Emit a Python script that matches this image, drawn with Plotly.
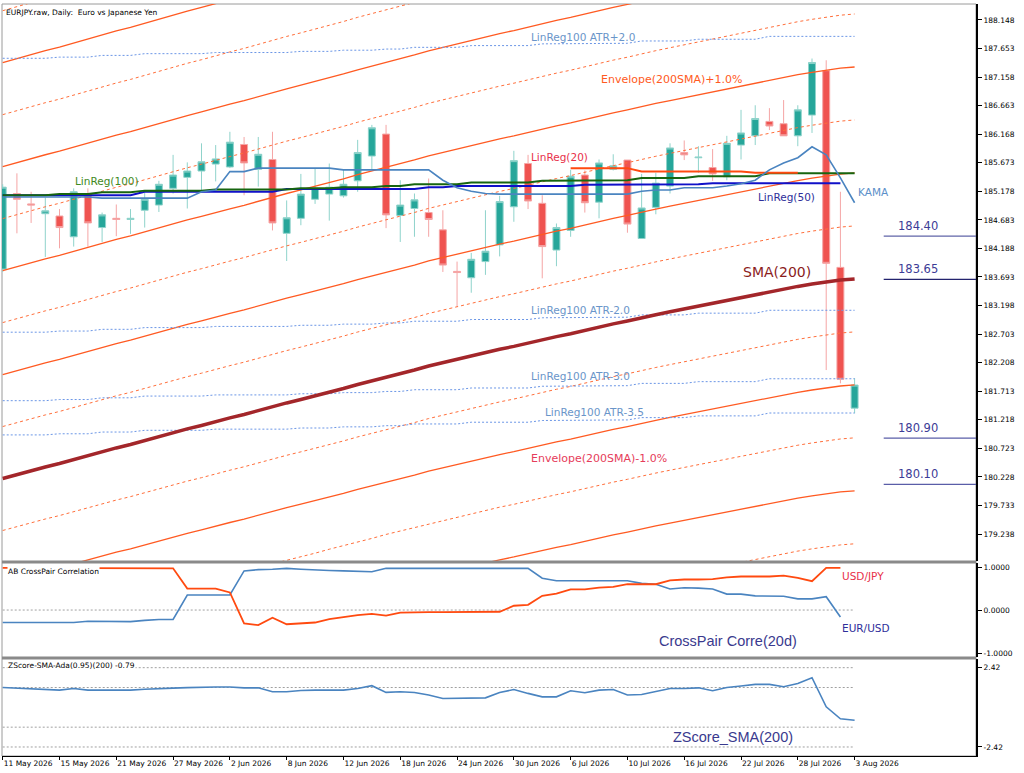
import numpy as np
import plotly.graph_objects as go

# ---- data (EURJPY daily, 61 bars) ----
tick_bars = [0, 4, 8, 12, 16, 20, 24, 28, 32, 36, 40, 44, 48, 52, 56, 60]
tick_labels = ["11 May 2026", "15 May 2026", "21 May 2026", "27 May 2026", "2 Jun 2026",
               "8 Jun 2026", "12 Jun 2026", "18 Jun 2026", "24 Jun 2026", "30 Jun 2026",
               "6 Jul 2026", "10 Jul 2026", "16 Jul 2026", "22 Jul 2026", "28 Jul 2026",
               "3 Aug 2026"]

opens = [183.83, 185.14, 184.96, 184.79, 184.75, 184.39, 185.13, 184.55, 184.71, 184.69,
         184.85, 184.94, 185.23, 185.42, 185.53, 185.65, 185.60, 185.99, 185.56, 185.73,
         184.45, 184.71, 185.04, 185.13, 185.10, 185.36, 185.79, 186.17, 184.76, 184.88,
         184.81, 184.51, 183.79, 183.68, 183.96, 184.25, 184.91, 185.66, 184.97, 184.16,
         184.50, 185.46, 184.99, 185.56, 185.72, 184.36, 184.90, 185.27, 185.85, 185.76,
         185.59, 185.43, 185.98, 186.14, 186.39, 186.35, 186.14, 186.50, 187.27, 183.86,
         181.42]
highs = [185.30, 185.49, 185.17, 185.07, 184.87, 185.23, 185.23, 184.81, 184.95, 184.87,
         185.15, 185.36, 185.81, 185.68, 186.01, 185.98, 186.21, 186.12, 186.12, 186.21,
         185.02, 185.48, 185.57, 185.66, 185.55, 186.07, 186.33, 186.33, 185.37, 185.14,
         185.40, 184.85, 183.96, 184.11, 184.85, 185.10, 185.88, 185.81, 185.11, 184.62,
         185.55, 185.54, 185.73, 185.82, 185.72, 185.48, 185.50, 186.01, 186.06, 185.96,
         185.91, 186.14, 186.59, 186.67, 186.62, 186.76, 186.67, 187.48, 187.45, 185.17,
         181.94]
lows = [183.78, 184.45, 184.63, 184.04, 184.19, 184.22, 184.22, 184.30, 184.40, 184.44,
        184.55, 184.82, 185.14, 184.88, 185.20, 185.35, 185.58, 185.11, 185.26, 184.50,
        183.97, 184.59, 184.96, 184.67, 185.07, 185.17, 185.55, 184.54, 184.30, 184.39,
        184.39, 183.78, 183.18, 183.42, 183.73, 184.05, 184.65, 184.87, 183.67, 183.88,
        184.39, 184.81, 184.71, 185.54, 184.46, 184.36, 184.78, 185.14, 185.72, 185.50,
        185.36, 185.37, 185.73, 185.98, 186.24, 186.14, 185.96, 186.19, 182.08, 181.85,
        181.33]
closes = [185.25, 185.04, 184.94, 184.84, 184.55, 185.17, 184.63, 184.77, 184.69, 184.71,
          185.04, 185.30, 185.46, 185.53, 185.69, 185.74, 186.03, 185.67, 185.82, 184.63,
          184.72, 185.13, 185.23, 185.25, 185.30, 185.85, 186.28, 184.77, 184.94, 185.03,
          184.69, 183.90, 183.77, 184.00, 184.14, 185.00, 185.71, 185.01, 184.22, 184.55,
          185.44, 184.98, 185.67, 185.62, 184.61, 184.89, 185.32, 185.93, 185.81, 185.77,
          185.48, 186.01, 186.19, 186.44, 186.31, 186.14, 186.59, 187.41, 183.93, 181.92,
          181.82]

sma200 = [180.20, 180.27, 180.33, 180.40, 180.46, 180.53, 180.60, 180.66, 180.73, 180.79,
          180.86, 180.92, 180.99, 181.06, 181.12, 181.19, 181.25, 181.31, 181.38, 181.44,
          181.51, 181.57, 181.63, 181.70, 181.76, 181.83, 181.89, 181.96, 182.02, 182.08,
          182.15, 182.21, 182.27, 182.33, 182.38, 182.44, 182.49, 182.55, 182.60, 182.66,
          182.71, 182.77, 182.82, 182.88, 182.93, 182.99, 183.04, 183.09, 183.14, 183.19,
          183.24, 183.29, 183.34, 183.39, 183.44, 183.48, 183.53, 183.57, 183.61, 183.64,
          183.66]
envelope_pct = [-3.0, -2.5, -2.0, -1.5, -1.0, -0.5, 0.5, 1.0, 1.5, 2.0, 2.5, 3.0, 3.5, 4.0, 4.5]

linreg100 = [185.11, 185.11, 185.11, 185.11, 185.13, 185.13, 185.13, 185.16, 185.16, 185.16,
             185.19, 185.19, 185.19, 185.19, 185.19, 185.21, 185.21, 185.21, 185.21, 185.21,
             185.21, 185.23, 185.23, 185.23, 185.25, 185.25, 185.25, 185.27, 185.27, 185.30,
             185.30, 185.30, 185.30, 185.33, 185.33, 185.33, 185.33, 185.33, 185.36, 185.36,
             185.36, 185.37, 185.37, 185.37, 185.37, 185.41, 185.41, 185.41, 185.41, 185.44,
             185.44, 185.44, 185.44, 185.44, 185.49, 185.49, 185.49, 185.49, 185.49, 185.49,
             185.49]
atr_value = 1.187
atr_mults = [2.0, -2.0, -3.0, -3.5]

linreg50 = [185.11, 185.11, 185.11, 185.11, 185.11, 185.11, 185.11, 185.11, 185.11, 185.11,
            185.17, 185.17, 185.17, 185.17, 185.17, 185.17, 185.17, 185.17, 185.17, 185.17,
            185.22, 185.22, 185.22, 185.22, 185.22, 185.22, 185.22, 185.22, 185.22, 185.22,
            185.25, 185.25, 185.27, 185.27, 185.27, 185.27, 185.27, 185.27, 185.27, 185.27,
            185.27, 185.29, 185.29, 185.29, 185.29, 185.30, 185.30, 185.30, 185.30, 185.30,
            185.32, 185.32, 185.32, 185.32, 185.32, 185.32, 185.32, 185.32, 185.32, 185.32,
            None]

kama = [185.08, 185.08, 185.08, 185.08, 185.08, 185.08, 185.08, 185.06, 185.06, 185.06,
        185.06, 185.06, 185.06, 185.06, 185.17, 185.20, 185.52, 185.52, 185.58, 185.58,
        185.58, 185.58, 185.58, 185.58, 185.55, 185.55, 185.55, 185.55, 185.55, 185.55,
        185.55, 185.37, 185.24, 185.18, 185.14, 185.13, 185.13, 185.13, 185.13, 185.13,
        185.13, 185.13, 185.13, 185.13, 185.13, 185.18, 185.20, 185.20, 185.24, 185.24,
        185.24, 185.27, 185.31, 185.37, 185.55, 185.67, 185.76, 185.95, 185.81, 185.41,
        184.98]

linreg20_bars = list(range(40, 57))
linreg20 = [185.58, 185.58, 185.58, 185.58, 185.58, 185.52, 185.52, 185.52, 185.52, 185.52,
            185.52, 185.52, 185.52, 185.50, 185.50, 185.50, 185.50]

price_levels = [184.40, 183.65, 180.90, 180.10]
price_level_colors = ["#6064a8", "#23236e", "#5a5ea8", "#5a5ea8"]

corr_usdjpy = [0.98, 0.98, 0.98, 0.98, 0.98, 0.98, 0.98, 0.98, 0.97, 0.97,
               0.97, 0.97, 0.97, 0.50, 0.50, 0.50, 0.41, -0.31, -0.35, -0.18,
               -0.33, -0.31, -0.29, -0.21, -0.16, -0.12, -0.09, -0.13, -0.06, -0.05,
               -0.05, -0.05, -0.05, -0.05, -0.04, -0.04, 0.10, 0.12, 0.33, 0.38,
               0.48, 0.48, 0.52, 0.54, 0.60, 0.60, 0.60, 0.69, 0.71, 0.71,
               0.72, 0.76, 0.78, 0.78, 0.78, 0.80, 0.75, 0.67, 0.98, 0.98]
corr_eurusd = [-0.29, -0.29, -0.29, -0.29, -0.29, -0.29, -0.26, -0.26, -0.26, -0.27,
               -0.24, -0.22, -0.22, 0.35, 0.35, 0.35, 0.35, 0.91, 0.94, 0.95,
               0.97, 0.95, 0.93, 0.92, 0.91, 0.90, 0.89, 0.97, 0.97, 0.97,
               0.97, 0.97, 0.98, 0.98, 0.98, 0.98, 0.98, 0.97, 0.74, 0.68,
               0.68, 0.68, 0.68, 0.68, 0.68, 0.62, 0.60, 0.49, 0.52, 0.51,
               0.49, 0.37, 0.37, 0.33, 0.33, 0.32, 0.26, 0.26, 0.31, -0.16]

zscore = [1.21, 1.18, 1.15, 1.12, 1.05, 1.15, 1.05, 1.05, 1.05, 1.05,
          1.10, 1.15, 1.17, 1.20, 1.24, 1.24, 1.24, 1.19, 1.19, 0.95,
          0.95, 1.03, 1.05, 1.05, 1.05, 1.15, 1.32, 0.91, 0.95, 0.91,
          0.75, 0.54, 0.54, 0.56, 0.58, 0.90, 1.09, 0.85, 0.64, 0.64,
          1.01, 0.89, 1.05, 1.09, 0.75, 0.78, 0.95, 1.15, 1.15, 1.19,
          1.01, 1.21, 1.30, 1.40, 1.40, 1.26, 1.46, 1.81, 0.03, -0.70,
          -0.79]
zscore_levels = [2.42, 1.21, -1.21, -2.42]

main_ticks = [179.238, 179.733, 180.228, 180.723, 181.218, 181.713, 182.208, 182.703,
              183.198, 183.693, 184.188, 184.683, 185.178, 185.673, 186.168, 186.663,
              187.158, 187.653, 188.148]

bars = list(range(len(opens)))
SMALL = "DejaVu Sans"
X_RANGE = [-0.05, 68.55]

fig = go.Figure()

# envelope lines around the 200 SMA
sma_arr = np.array(sma200)
for pct in envelope_pct:
    solid = float(pct).is_integer()
    fig.add_trace(go.Scatter(
        x=bars, y=sma_arr * (1 + pct / 100), mode="lines", xaxis="x", yaxis="y",
        line=dict(color="#ff5a22" if solid else "#ff6e3a", width=1.3 if solid else 1,
                  dash="solid" if solid else "3px,3px"),
        hoverinfo="skip", showlegend=False))

# LinReg100 +/- ATR bands
lr100 = np.array(linreg100)
for m in atr_mults:
    fig.add_trace(go.Scatter(
        x=bars, y=lr100 + m * atr_value, mode="lines", xaxis="x", yaxis="y",
        line=dict(color="#6b96e6", width=1, dash="2px,2px"),
        hoverinfo="skip", showlegend=False))

fig.add_trace(go.Scatter(x=bars, y=sma200, mode="lines", line=dict(color="#a3262a", width=3.5),
                         hoverinfo="skip", showlegend=False))
fig.add_trace(go.Scatter(x=bars, y=linreg50, mode="lines", line=dict(color="#1010c8", width=2),
                         hoverinfo="skip", showlegend=False))
fig.add_trace(go.Scatter(x=bars, y=linreg100, mode="lines", line=dict(color="#17650f", width=2),
                         hoverinfo="skip", showlegend=False))
fig.add_trace(go.Scatter(x=linreg20_bars, y=linreg20, mode="lines", line=dict(color="#ff4a10", width=2),
                         hoverinfo="skip", showlegend=False))
fig.add_trace(go.Scatter(x=bars, y=kama, mode="lines", line=dict(color="#4a84c0", width=1.6),
                         hoverinfo="skip", showlegend=False))

fig.add_trace(go.Candlestick(
    x=bars, open=opens, high=highs, low=lows, close=closes,
    increasing=dict(line=dict(color="#8fd3cb", width=1), fillcolor="#26a69a"),
    decreasing=dict(line=dict(color="#f5a5a5", width=1), fillcolor="#ef5350"),
    whiskerwidth=0, hoverinfo="skip", showlegend=False))

# horizontal price levels on the right
for lvl, col in zip(price_levels, price_level_colors):
    fig.add_trace(go.Scatter(x=[62.05, 68.6], y=[lvl, lvl], mode="lines",
                             line=dict(color=col, width=1.2), hoverinfo="skip", showlegend=False))

# correlation panel
fig.add_trace(go.Scatter(x=[0, 60], y=[0, 0], mode="lines", xaxis="x2", yaxis="y2",
                         line=dict(color="#a0a0a0", width=1, dash="2px,2px"),
                         hoverinfo="skip", showlegend=False))
fig.add_trace(go.Scatter(x=bars[:len(corr_eurusd)], y=corr_eurusd, mode="lines", xaxis="x2", yaxis="y2",
                         line=dict(color="#4a84c0", width=1.6), hoverinfo="skip", showlegend=False))
fig.add_trace(go.Scatter(x=bars[:len(corr_usdjpy)], y=corr_usdjpy, mode="lines", xaxis="x2", yaxis="y2",
                         line=dict(color="#ff4a10", width=1.8), hoverinfo="skip", showlegend=False))

# z-score panel
for lvl in zscore_levels:
    fig.add_trace(go.Scatter(x=[0, 60], y=[lvl, lvl], mode="lines", xaxis="x3", yaxis="y3",
                             line=dict(color="#a0a0a0", width=1, dash="2px,2px"),
                             hoverinfo="skip", showlegend=False))
fig.add_trace(go.Scatter(x=bars, y=zscore, mode="lines", xaxis="x3", yaxis="y3",
                         line=dict(color="#4a84c0", width=1.6), hoverinfo="skip", showlegend=False))


def label(text, x, y, color, size=10.5, family=SMALL, xref="x", yref="y", **kw):
    return dict(text=text, x=x, y=y, xref=xref, yref=yref, showarrow=False,
                xanchor=kw.pop("xanchor", "left"), yanchor=kw.pop("yanchor", "middle"),
                font=dict(family=family, size=size, color=color), **kw)


annotations = [
    label("EURJPY.raw, Daily:  Euro vs Japanese Yen", 0.002, 0.997, "black", 7.5,
          xref="paper", yref="paper", yanchor="top"),
    label("LinReg100 ATR+2.0", 37.05, 187.853, "#6a95c9"),
    label("Envelope(200SMA)+1.0%", 41.98, 187.108, "#ff5a22", 11),
    label("LinReg(20)", 37.05, 185.773, "#e8304a"),
    label("LinReg(100)", 4.93, 185.357, "#3f8a22"),
    label("LinReg(50)", 53.03, 185.080, "#2e2e9a"),
    label("KAMA", 60.08, 185.166, "#5b8fc9"),
    label("SMA(200)", 51.98, 183.78, "#8b1c1c", 14),
    label("LinReg100 ATR-2.0", 37.05, 183.12, "#6a95c9"),
    label("LinReg100 ATR-3.0", 37.05, 181.977, "#6a95c9"),
    label("LinReg100 ATR-3.5", 38.03, 181.353, "#6a95c9"),
    label("Envelope(200SMA)-1.0%", 37.05, 180.555, "#e63c5a", 11),
    label("AB CrossPair Correlation", 0.3, 0.90, "black", 7.5, xref="x2", yref="y2",
          bgcolor="white", borderpad=0),
    label("USD/JPY", 59.0, 0.78, "#e8304a", xref="x2", yref="y2"),
    label("EUR/USD", 59.0, -0.42, "#2e2e9a", xref="x2", yref="y2"),
    label("CrossPair Corre(20d)", 46.06, -0.72, "#3a3a8e", 14.5, "Liberation Sans",
          xref="x2", yref="y2"),
    label("ZScore-SMA-Ada(0.95)(200) -0.79", 0.3, 2.58, "black", 7.5, xref="x3", yref="y3",
          bgcolor="white", borderpad=0),
    label("ZScore_SMA(200)", 47.05, -1.78, "#3a3a8e", 14.5, "Liberation Sans",
          xref="x3", yref="y3"),
]
for lvl in price_levels:
    annotations.append(label(f"{lvl:.2f}", 64.45, lvl, "#3c3c96", 11.5,
                             xanchor="center", yanchor="bottom", yshift=1))

axis_common = dict(showgrid=False, zeroline=False, automargin=False)
y_common = dict(showgrid=False, zeroline=False, automargin=False, side="right", showline=True,
                linecolor="black", linewidth=2, ticks="outside", ticklen=4, tickcolor="black",
                tickfont=dict(family=SMALL, size=7.5, color="black"))

fig.update_layout(
    width=1024, height=773,
    margin=dict(l=2, r=48, t=4, b=17, autoexpand=False),
    paper_bgcolor="white", plot_bgcolor="white",
    showlegend=False,
    xaxis=dict(domain=[0, 1], anchor="y", range=X_RANGE, showticklabels=False,
               rangeslider=dict(visible=False), **axis_common),
    xaxis2=dict(domain=[0, 1], anchor="y2", range=X_RANGE, matches="x", showticklabels=False,
                **axis_common),
    xaxis3=dict(domain=[0, 1], anchor="y3", range=X_RANGE, matches="x", tickmode="array",
                tickvals=tick_bars, ticktext=tick_labels, ticks="outside", ticklen=3,
                tickangle=0, tickcolor="black", ticklabelposition="outside right",
                tickfont=dict(family=SMALL, size=7.5, color="black"),
                showline=True, linecolor="black", linewidth=1, **axis_common),
    yaxis=dict(domain=[0.2593, 1], anchor="x", range=[178.770, 188.425], tickmode="array",
               tickvals=main_ticks, ticktext=[f"{t:.3f}" for t in main_ticks], **y_common),
    yaxis2=dict(domain=[0.1316, 0.2566], anchor="x2", range=[-1.093, 1.093], tickmode="array",
                tickvals=[1, 0, -1], ticktext=["1.0000", "0.0000", "-1.0000"], **y_common),
    yaxis3=dict(domain=[0, 0.129], anchor="x3", range=[-2.97, 2.95], tickmode="array",
                tickvals=[2.42, -2.42], ticktext=["2.42", "-2.42"], **y_common),
    annotations=annotations,
    shapes=[
        dict(type="rect", xref="paper", yref="paper", x0=0, x1=1, y0=0, y1=1,
             line=dict(color="#9a9a9a", width=1), layer="below"),
        dict(type="line", xref="paper", yref="paper", x0=0, x1=1, y0=0.2580, y1=0.2580,
             line=dict(color="#8a8a8a", width=3)),
        dict(type="line", xref="paper", yref="paper", x0=0, x1=1, y0=0.1303, y1=0.1303,
             line=dict(color="#8a8a8a", width=3)),
    ],
)

# drop the browser's default page margin so the 1024x773 figure fills the window
fig.write_html("out.html", config={"displayModeBar": False},
               post_script="document.body.style.margin='0';")
